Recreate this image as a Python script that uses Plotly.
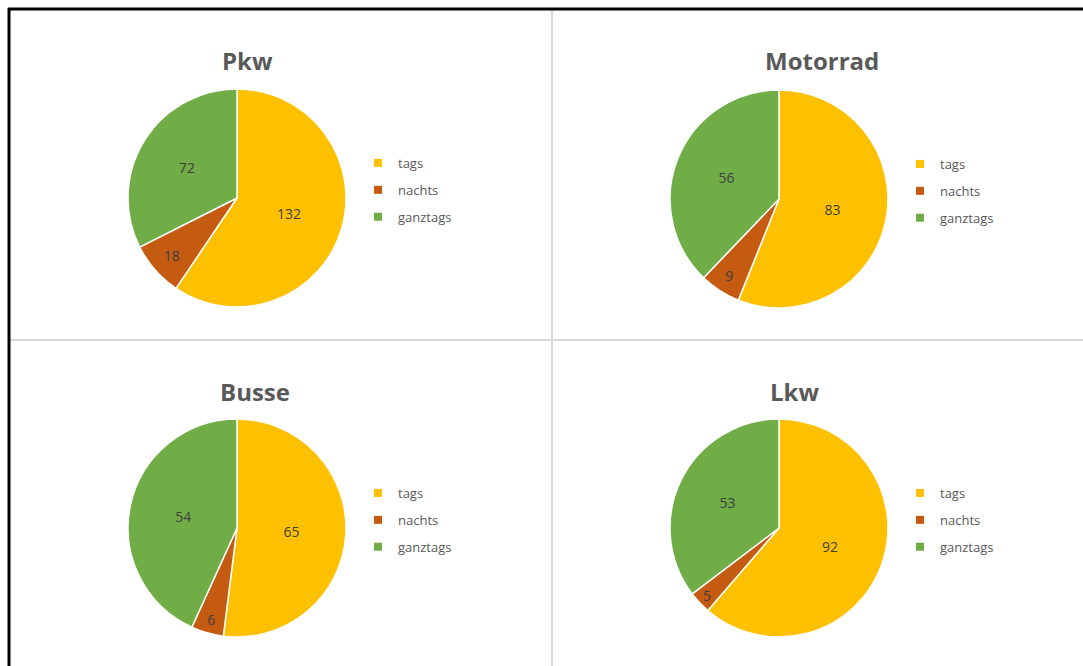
import plotly.graph_objects as go

categories = ["tags", "nachts", "ganztags"]
colors = ["#FFC000", "#C55A11", "#70AD47"]

vehicles = ["Pkw", "Motorrad", "Busse", "Lkw"]
pkw = [132, 18, 72]
motorrad = [83, 9, 56]
busse = [65, 6, 54]
lkw = [92, 5, 53]

W, H = 1083, 666


def px_x(v):
    return v / W


def px_y(v):
    return 1 - v / H


# pie centre, title centre x, legend symbol centre and legend middle (all px)
panels = [
    dict(values=pkw, cx=237, cy=198, tx=247, ty=61, lx=378, ly=190),
    dict(values=motorrad, cx=779, cy=199, tx=822, ty=61, lx=920, ly=191),
    dict(values=busse, cx=237, cy=528, tx=255, ty=391, lx=378, ly=520),
    dict(values=lkw, cx=779, cy=528, tx=794, ty=391, lx=920, ly=520),
]
R = 109

fig = go.Figure()
legends = {}
annotations = []

for i, (name, p) in enumerate(zip(vehicles, panels)):
    leg = "legend" if i == 0 else f"legend{i + 1}"
    fig.add_trace(
        go.Pie(
            labels=categories, values=p["values"], sort=False,
            direction="clockwise", rotation=0,
            marker=dict(colors=colors, line=dict(color="white", width=1.5)),
            textinfo="value", textposition="inside",
            insidetextorientation="horizontal",
            textfont=dict(family="Open Sans", size=14, color="#404040"),
            domain=dict(
                x=[px_x(p["cx"] - R), px_x(p["cx"] + R)],
                y=[px_y(p["cy"] + R), px_y(p["cy"] - R)],
            ),
            name=name, showlegend=False, hoverinfo="label+value+percent",
        )
    )
    # legend entries, one per category so the group gap spaces them out
    for cat, col in zip(categories, colors):
        fig.add_trace(
            go.Scatter(
                x=[None], y=[None], mode="markers", name=cat,
                marker=dict(symbol="square", size=8, color=col),
                legend=leg, legendgroup=f"{name}-{cat}", hoverinfo="skip",
            )
        )
    legends[leg] = dict(
        x=px_x(p["lx"] - 20), y=px_y(p["ly"]), xanchor="left", yanchor="middle",
        font=dict(family="Open Sans", size=13, color="#595959"),
        bgcolor="rgba(0,0,0,0)", tracegroupgap=7, borderwidth=0,
    )
    annotations.append(
        dict(
            text=f"<b>{name}</b>", x=px_x(p["tx"]), y=px_y(p["ty"]),
            xref="paper", yref="paper", showarrow=False,
            xanchor="center", yanchor="middle",
            font=dict(family="Open Sans", size=24, color="#595959"),
        )
    )

shapes = [
    # grey panel dividers
    dict(type="line", xref="paper", yref="paper", x0=px_x(552), x1=px_x(552),
         y0=0, y1=px_y(10), line=dict(color="#D9D9D9", width=2)),
    dict(type="line", xref="paper", yref="paper", x0=px_x(10), x1=1,
         y0=px_y(340), y1=px_y(340), line=dict(color="#D9D9D9", width=2)),
    # black frame (top and left edges)
    dict(type="line", xref="paper", yref="paper", x0=px_x(8), x1=1,
         y0=px_y(9), y1=px_y(9), line=dict(color="black", width=3)),
    dict(type="line", xref="paper", yref="paper", x0=px_x(9), x1=px_x(9),
         y0=0, y1=px_y(8), line=dict(color="black", width=3)),
]

fig.update_layout(
    width=W, height=H,
    margin=dict(l=0, r=0, t=0, b=0),
    paper_bgcolor="white", plot_bgcolor="white",
    xaxis=dict(visible=False), yaxis=dict(visible=False),
    showlegend=True,
    annotations=annotations,
    shapes=shapes,
    **legends,
)

fig.write_html(
    "out.html",
    config={"displayModeBar": False},
    post_script="document.body.style.margin='0';",
)
